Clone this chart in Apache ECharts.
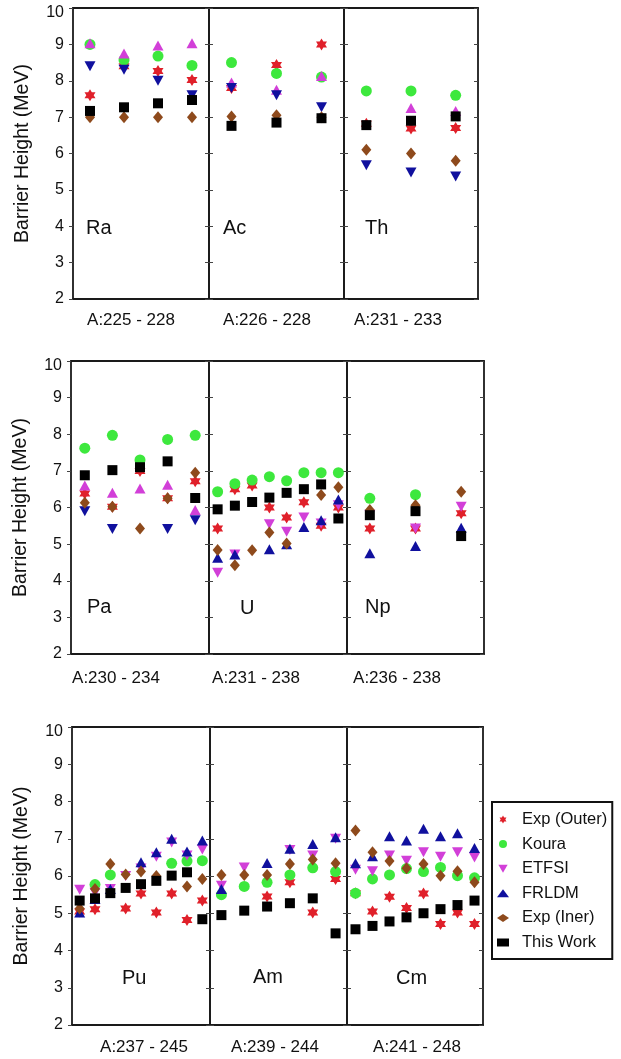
<!DOCTYPE html>
<html>
<head>
<meta charset="utf-8">
<title>Barrier Height</title>
<script src="https://cdn.jsdelivr.net/npm/echarts@6/dist/echarts.min.js"></script>
<style>
  html, body { margin: 0; padding: 0; background: #fff; }
  #chart { width: 621px; height: 1059px; }
</style>
</head>
<body>
<div id="chart"></div>
<script>
// ---- data (MeV) ----
const seriesNames = ['Exp (Outer)', 'Koura', 'ETFSI', 'FRLDM', 'Exp (Iner)', 'This Work'];
const elements = ['Ra', 'Ac', 'Th', 'Pa', 'U', 'Np', 'Pu', 'Am', 'Cm'];
const ranges = ['A:225 - 228', 'A:226 - 228', 'A:231 - 233', 'A:230 - 234', 'A:231 - 238',
  'A:236 - 238', 'A:237 - 245', 'A:239 - 244', 'A:241 - 248'];
const yTicks = [2, 10, 1]; // min, max, step

const raMass = ['225', '226', '227', '228'];
const raOuter = [7.6, 8.4, 8.27, 8.02];
const raKoura = [9.0, 8.57, 8.68, 8.42];
const raEtfsi = [9.03, 8.75, 8.97, 9.03];
const raFrldm = [8.4, 8.3, 8.0, 7.6];
const raIner = [7.0, 7.0, 7.0, 7.0];
const raWork = [7.17, 7.27, 7.38, 7.47];

const acMass = ['226', '227', '228'];
const acOuter = [7.8, 8.43, 9.0];
const acKoura = [8.5, 8.2, 8.1];
const acEtfsi = [7.95, 7.75, 8.13];
const acFrldm = [7.8, 7.6, 7.27];
const acIner = [7.02, 7.05, 7.0];
const acWork = [6.76, 6.85, 6.97];

const thMass = ['231', '232', '233'];
const thOuter = [6.82, 6.69, 6.7];
const thKoura = [7.72, 7.72, 7.6];
const thEtfsi = [null, 7.25, 7.17];
const thFrldm = [5.68, 5.48, 5.37];
const thIner = [6.1, 6.0, 5.8];
const thWork = [6.78, 6.9, 7.02];

const paMass = ['230', '231', '232', '233', '234'];
const paOuter = [6.38, 6.02, 7.0, 6.25, 6.72];
const paKoura = [7.62, 7.97, 7.3, 7.86, 7.97];
const paEtfsi = [6.6, 6.4, 6.52, 6.62, 5.93];
const paFrldm = [5.9, 5.41, null, 5.41, 5.65];
const paIner = [6.13, 6.02, 5.43, 6.25, 6.95];
const paWork = [6.88, 7.02, 7.1, 7.26, 6.26];

const uMass = ['231', '232', '233', '234', '235', '236', '237', '238'];
const uOuter = [5.43, 6.5, 6.6, 6.0, 5.73, 6.14, 5.5, 6.0];
const uKoura = [6.43, 6.65, 6.75, 6.84, 6.73, 6.95, 6.95, 6.95];
const uEtfsi = [4.22, 4.72, null, 5.54, 5.34, 5.73, 5.56, 6.06];
const uFrldm = [4.63, 4.72, null, 4.86, 5.0, 5.47, 5.65, 6.22];
const uIner = [4.84, 4.42, 4.83, 5.32, 5.02, null, 6.34, 6.55];
const uWork = [5.95, 6.05, 6.15, 6.27, 6.4, 6.5, 6.63, 5.7];

const npMass = ['236', '237', '238'];
const npOuter = [5.43, 5.43, 5.84];
const npKoura = [6.25, 6.35, null];
const npEtfsi = [5.8, 5.43, 6.02];
const npFrldm = [4.75, 4.95, 5.45];
const npIner = [5.93, 6.06, 6.43];
const npWork = [5.79, 5.9, 5.22];

const puMass = ['237', '238', '239', '240', '241', '242', '243', '244', '245'];
const puOuter = [5.05, 5.11, null, 5.13, 5.53, 5.02, 5.53, 4.82, 5.34];
const puKoura = [null, 5.77, 6.03, null, null, null, 6.34, 6.4, 6.41];
const puEtfsi = [5.63, 5.55, 5.65, 6.0, 6.2, 6.52, 6.9, 6.55, 6.71];
const puFrldm = [5.02, 5.38, 5.65, null, 6.37, 6.64, 7.0, 6.66, 6.95];
const puIner = [5.13, 5.65, 6.32, 6.04, 6.12, 6.0, null, 5.72, 5.92];
const puWork = [5.34, 5.4, 5.54, 5.68, 5.78, 5.87, 6.01, 6.1, 4.84];

const amMass = ['239', '240', '241', '242', '243', '244'];
const amOuter = [null, null, 5.45, 5.83, 5.02, 5.92];
const amKoura = [5.5, 5.72, 5.83, 6.03, 6.22, 6.12];
const amEtfsi = [5.74, 6.23, null, 6.7, 6.55, 7.0];
const amFrldm = [5.65, null, 6.35, 6.73, 6.86, 7.04];
const amIner = [6.03, 6.03, 6.03, 6.32, 6.44, 6.34];
const amWork = [4.95, 5.07, 5.18, 5.27, 5.4, 4.46];

const cmMass = ['241', '242', '243', '244', '245', '246', '247', '248'];
const cmOuter = [5.54, 5.05, 5.44, 5.14, 5.53, 4.71, 5.02, 4.71];
const cmKoura = [5.54, 5.92, 6.03, 6.2, 6.12, 6.23, 6.01, 5.95];
const cmEtfsi = [6.17, 6.13, 6.55, 6.41, 6.64, 6.52, 6.64, 6.5];
const cmFrldm = [6.34, 6.53, 7.07, 6.95, 7.27, 7.07, 7.15, 6.75];
const cmIner = [7.22, 6.64, 6.4, 6.21, 6.32, 6.01, 6.13, 5.83];
const cmWork = [4.57, 4.66, 4.78, 4.89, 5.0, 5.11, 5.22, 5.34];

// ---- layout & style ----
const FONT = '"Liberation Sans", Arial, sans-serif';
const colors = ['#e0202a', '#3de83d', '#d23fd8', '#10109e', '#8e4a1c', '#000000'];
const STAR = 'path://M0,-10L2.89,-5L8.66,-5L5.77,0L8.66,5L2.89,5L0,10L-2.89,5L-8.66,5L-5.77,0L-8.66,-5L-2.89,-5Z';
const DOWN = 'path://M0,0L10,0L5,8.66Z';

// plot boxes of the three panels, with section borders
const panels = [
  { top: 8, bottom: 299, xs: [73, 209, 344, 478] },
  { top: 361, bottom: 654, xs: [71, 209, 347, 484] },
  { top: 727, bottom: 1025, xs: [72, 210, 347, 483] }
];
// element label (left, middle) and range label (center, middle)
const elemPos = [[86, 228], [223, 228], [365, 228], [87, 607], [240, 608], [365, 607], [122, 978], [253, 977], [396, 978]];
const rangePos = [[131, 320], [267, 320], [398, 320], [116, 678], [256, 678], [397, 678], [144, 1047], [275, 1047], [417, 1047]];

const sections = [
  { mass: raMass, vals: [raOuter, raKoura, raEtfsi, raFrldm, raIner, raWork], etfsiUp: true },
  { mass: acMass, vals: [acOuter, acKoura, acEtfsi, acFrldm, acIner, acWork], etfsiUp: true },
  { mass: thMass, vals: [thOuter, thKoura, thEtfsi, thFrldm, thIner, thWork], etfsiUp: true },
  { mass: paMass, vals: [paOuter, paKoura, paEtfsi, paFrldm, paIner, paWork], etfsiUp: true },
  { mass: uMass, vals: [uOuter, uKoura, uEtfsi, uFrldm, uIner, uWork] },
  { mass: npMass, vals: [npOuter, npKoura, npEtfsi, npFrldm, npIner, npWork] },
  { mass: puMass, vals: [puOuter, puKoura, puEtfsi, puFrldm, puIner, puWork] },
  { mass: amMass, vals: [amOuter, amKoura, amEtfsi, amFrldm, amIner, amWork] },
  { mass: cmMass, vals: [cmOuter, cmKoura, cmEtfsi, cmFrldm, cmIner, cmWork] }
];

function symbolOf(k, up) {
  if (k === 0) return STAR;
  if (k === 1) return 'circle';
  if (k === 2) return up ? 'triangle' : DOWN;
  if (k === 3) return up ? DOWN : 'triangle';
  if (k === 4) return 'diamond';
  return 'rect';
}
const sizes = [[11, 12], 11, [11, 10], [11, 10], [10, 12], 10];

const grid = [], xAxis = [], yAxis = [], series = [], graphic = [];
const axisLine = { show: true, lineStyle: { color: '#1a1a1a', width: 1.8 } };
const tickStyle = { color: '#444', width: 1 };

sections.forEach((s, i) => {
  const p = panels[Math.floor(i / 3)];
  const c = i % 3;
  const left = p.xs[c];
  const width = p.xs[c + 1] - left;
  grid.push({ left: left, top: p.top, width: width, height: p.bottom - p.top });

  xAxis.push({
    type: 'category', gridIndex: i, data: s.mass, position: 'bottom', boundaryGap: true,
    axisLine: axisLine, axisTick: { alignWithLabel: true, length: 4, lineStyle: tickStyle },
    axisLabel: { show: false }, splitLine: { show: false }
  });
  xAxis.push({
    type: 'category', gridIndex: i, data: s.mass, position: 'top', boundaryGap: true,
    axisLine: axisLine, axisTick: { alignWithLabel: true, inside: true, length: 4, lineStyle: tickStyle },
    axisLabel: { show: false }, splitLine: { show: false }
  });
  yAxis.push({
    type: 'value', gridIndex: i, position: 'left', min: yTicks[0], max: yTicks[1], interval: yTicks[2],
    axisLine: axisLine, splitLine: { show: false },
    axisTick: { show: true, inside: c !== 0, length: 4, lineStyle: tickStyle },
    axisLabel: {
      show: c === 0, fontFamily: FONT, fontSize: 16, color: '#111', margin: 9,
      formatter: v => (v === yTicks[1] ? '{top|' + v + '}' : String(v)),
      rich: { top: { fontFamily: FONT, fontSize: 16, color: '#111', padding: [10, 0, 0, 0] } }
    },
    name: c === 0 ? 'Barrier Height (MeV)' : '',
    nameLocation: 'middle', nameGap: 40,
    nameTextStyle: { fontFamily: FONT, fontSize: 19.5, color: '#111' }
  });
  yAxis.push({
    type: 'value', gridIndex: i, position: 'right', min: yTicks[0], max: yTicks[1], interval: yTicks[2],
    axisLine: axisLine, splitLine: { show: false },
    axisTick: { show: true, inside: true, length: 4, lineStyle: tickStyle },
    axisLabel: { show: false }
  });

  s.vals.forEach((v, k) => {
    series.push({
      name: seriesNames[k], type: 'scatter', xAxisIndex: 2 * i, yAxisIndex: 2 * i,
      symbol: symbolOf(k, s.etfsiUp), symbolSize: sizes[k],
      itemStyle: { color: colors[k], opacity: 1 },
      emphasis: { disabled: true },
      data: v.map((y, j) => (y == null ? null : [s.mass[j], y])).filter(d => d)
    });
  });

  graphic.push({
    type: 'text', x: elemPos[i][0], y: elemPos[i][1],
    style: { text: elements[i], fontFamily: FONT, fontSize: 20, fill: '#111', align: 'left', verticalAlign: 'middle' }
  });
  graphic.push({
    type: 'text', x: rangePos[i][0], y: rangePos[i][1],
    style: { text: ranges[i], fontFamily: FONT, fontSize: 17, fill: '#111', align: 'center', verticalAlign: 'middle' }
  });
});

const legendIcons = [STAR, 'circle', DOWN, 'triangle', 'diamond', 'rect'];

const chart = echarts.init(document.getElementById('chart'));
chart.setOption({
  animation: false,
  backgroundColor: '#fff',
  grid: grid,
  xAxis: xAxis,
  yAxis: yAxis,
  legend: {
    orient: 'vertical', left: 492, top: 802,
    padding: [9, 5, 8, 5],
    itemWidth: 12, itemHeight: 8, itemGap: 7.6,
    borderColor: '#111', borderWidth: 2,
    selectedMode: false,
    textStyle: { fontFamily: FONT, fontSize: 16.5, color: '#111', padding: [0, 0, 0, 8] },
    data: seriesNames.map((n, k) => ({ name: n, icon: legendIcons[k], itemStyle: { color: colors[k] } }))
  },
  graphic: graphic,
  series: series
});
</script>
</body>
</html>
